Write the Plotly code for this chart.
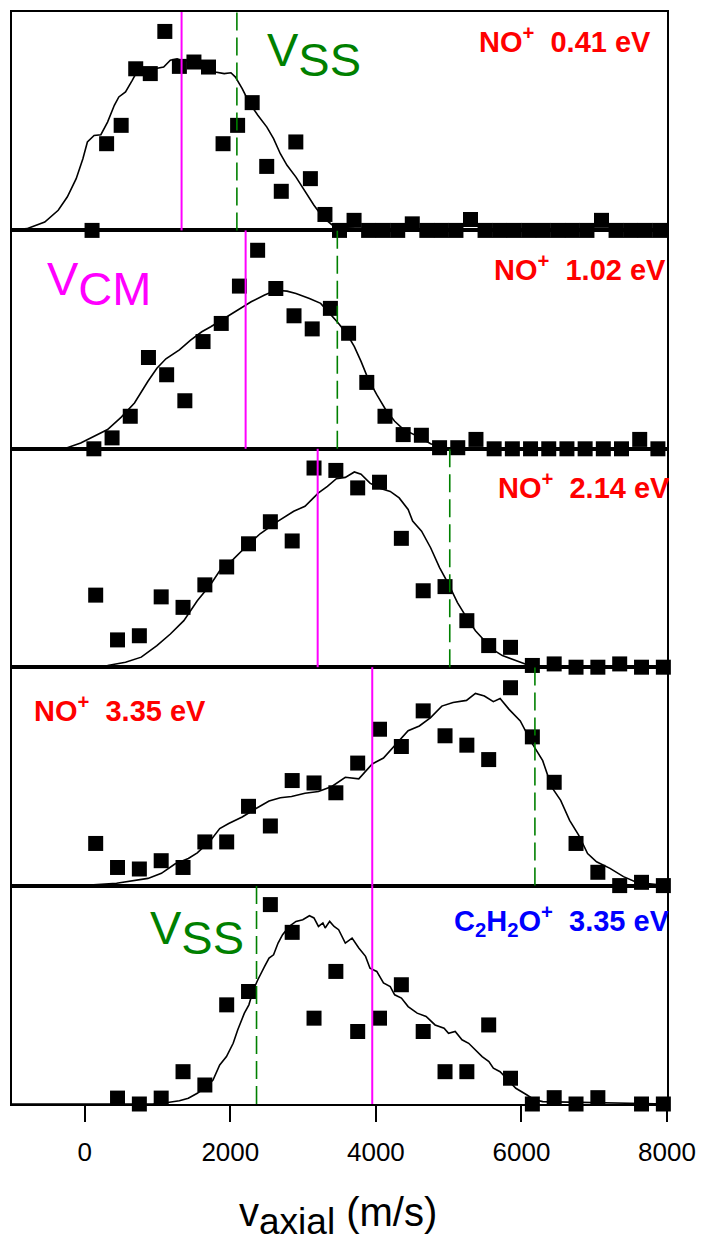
import plotly.graph_objects as go

# ---------------- data ----------------
# Panel 1: NO+ 0.41 eV
p1_x = [100, 300, 500, 700, 900, 1100, 1300, 1500, 1700, 1900, 2100, 2300, 2500, 2700, 2900,
        3100, 3300, 3500, 3700, 3900, 4100, 4300, 4500, 4700, 4900, 5100, 5300, 5500, 5700,
        5900, 6100, 6300, 6500, 6700, 6900, 7100, 7300, 7500, 7700, 7900]
p1_y = [0, 39.7, 48.1, 74.0, 71.8, 91.1, 75.1, 77.1, 74.8, 39.7, 48.1, 58.5, 29.3, 17.9, 40.5,
        23.7, 7.3, 0, 4.6, 0, 0, 0, 3.0, 0, 0, 0, 5.0, 0, 0,
        0, 0, 0, 0, 0, 0, 4.6, 0, 0, 0, 0]
p1_fit_x = [-1000, -796, -550, -365, -241, -118, -26, 36, 128, 221, 313, 406, 468, 560, 652, 714,
            806, 961, 1084, 1176, 1269, 1361, 1423, 1546, 1670, 1793, 1916, 2008, 2070, 2163,
            2255, 2378, 2502, 2594, 2687, 2779, 2902, 3026, 3149, 3272, 3395, 3519, 3704, 4073, 8000]
p1_fit_y = [0, 0.8, 3.8, 9.2, 15.3, 23.7, 32.8, 40.5, 43.5, 43.8, 49.6, 57.3, 61.1, 63.4, 68.7, 72.5,
            74.0, 74.0, 74.8, 77.9, 78.6, 77.4, 77.9, 78.6, 75.6, 72.5, 71.8, 72.2, 70.2, 64.9,
            58.8, 52.7, 47.3, 42.0, 35.1, 29.8, 24.4, 17.6, 11.5, 6.1, 2.6, 1.5, 0.8, 0.3, 0]

# Panel 2: NO+ 1.02 eV
p2_x = [125, 375, 625, 875, 1125, 1375, 1625, 1875, 2125, 2375, 2625, 2875, 3125, 3375, 3625,
        3875, 4125, 4375, 4625, 4875, 5125, 5375, 5625, 5875, 6125, 6375, 6625, 6875, 7125,
        7375, 7625, 7875]
p2_y = [0, 5.0, 14.9, 41.8, 33.9, 22.0, 49.1, 57.4, 74.5, 90.9, 73.4, 60.9, 54.9, 64.3, 52.9,
        30.4, 14.9, 6.5, 6.2, 0.5, 0.5, 4.3, 0, 0, 0, 0, 0, 0, 0,
        0, 4.3, 0]
p2_fit_x = [-1000, -241, -56, 128, 313, 498, 683, 868, 991, 1115, 1300, 1454, 1608, 1731, 1916,
            2101, 2286, 2471, 2625, 2779, 2902, 3087, 3241, 3365, 3488, 3611, 3704, 3796, 3889,
            4012, 4135, 4258, 4382, 4567, 4752, 4937, 5306, 8000]
p2_fit_y = [0, 0.5, 2.7, 5.8, 8.8, 14.4, 21.0, 30.9, 36.9, 41.2, 45.3, 49.8, 53.6, 55.9, 59.7,
            63.5, 67.3, 70.4, 72.6, 72.2, 71.1, 68.8, 66.6, 62.0, 57.4, 52.1, 46.8, 40.0, 32.4,
            24.8, 17.9, 12.6, 8.8, 5.8, 2.3, 0.5, 0, 0]

# Panel 3: NO+ 2.14 eV
p3_x = [150, 450, 750, 1050, 1350, 1650, 1950, 2250, 2550, 2850, 3150, 3450, 3750, 4050,
        4350, 4650, 4950, 5250, 5550, 5850, 6150, 6450, 6750, 7050, 7350, 7650, 7950]
p3_y = [33.0, 12.5, 14.4, 32.2, 27.4, 37.7, 45.9, 56.5, 66.6, 57.8, 91.2, 90.1, 82.1, 84.7,
        59.0, 35.0, 36.9, 21.3, 9.9, 9.1, 0.8, 1.5, 0, 0, 1.5, 0, 0]
p3_fit_x = [-1000, -303, 313, 560, 776, 991, 1176, 1361, 1546, 1731, 1854, 2039, 2224, 2409,
            2656, 2871, 3026, 3118, 3211, 3334, 3457, 3580, 3704, 3796, 3919, 4043, 4197, 4320,
            4443, 4505, 4628, 4752, 4875, 4998, 5121, 5245, 5368, 5491, 5614, 5738, 5923, 6108,
            6231, 8000]
p3_fit_y = [0, 0.3, 0.8, 2.3, 4.6, 9.9, 15.2, 21.3, 30.4, 38.0, 44.1, 49.4, 55.5, 61.1,
            66.9, 71.4, 73.7, 76.7, 79.8, 82.8, 86.3, 86.9, 89.4, 88.4, 84.3, 82.1, 80.5, 77.5,
            72.2, 66.9, 62.3, 54.7, 45.6, 38.0, 29.6, 22.8, 16.7, 12.2, 7.9, 5.3, 3.0, 0.8,
            0, 0]

# Panel 4: NO+ 3.35 eV
p4_x = [150, 450, 750, 1050, 1350, 1650, 1950, 2250, 2550, 2850, 3150, 3450, 3750, 4050,
        4350, 4650, 4950, 5250, 5550, 5850, 6150, 6450, 6750, 7050, 7350, 7650, 7950]
p4_y = [19.3, 8.3, 7.6, 11.4, 8.3, 20.0, 20.0, 36.3, 27.3, 48.1, 47.0, 42.5, 56.1, 71.6,
        63.7, 80.0, 68.6, 64.3, 57.7, 90.6, 68.1, 47.3, 19.3, 6.1, 0, 1.5, 0]
p4_fit_x = [-1000, 67, 437, 683, 868, 1053, 1238, 1423, 1546, 1731, 1854, 1978, 2163, 2347,
            2532, 2687, 2841, 3026, 3211, 3395, 3580, 3765, 3950, 4104, 4258, 4443, 4597, 4752,
            4906, 5060, 5245, 5368, 5491, 5614, 5707, 5830, 5984, 6138, 6292, 6416, 6539, 6662,
            6786, 6909, 7032, 7217, 7402, 7587, 8000]
p4_fit_y = [0, 0.3, 1.1, 2.3, 3.3, 5.6, 9.9, 12.4, 15.0, 20.8, 26.1, 28.4, 31.4, 35.2,
            38.7, 40.2, 40.8, 42.3, 43.1, 45.4, 49.6, 48.9, 55.7, 58.4, 64.0, 70.9, 73.1, 76.9,
            82.2, 83.8, 84.8, 88.0, 86.8, 84.2, 85.7, 80.7, 75.4, 65.6, 57.2, 45.1, 39.0, 29.9,
            23.1, 14.7, 10.9, 7.9, 4.1, 1.4, 0]

# Panel 5: C2H2O+ 3.35 eV
p5_x = [450, 750, 1050, 1350, 1650, 1950, 2250, 2550, 2850, 3150, 3450, 3750, 4050, 4350,
        4650, 4950, 5250, 5550, 5850, 6150, 6450, 6750, 7050, 7650, 7950]
p5_y = [2.7, 0, 2.7, 14.8, 8.7, 45.4, 51.5, 91.3, 78.6, 39.3, 60.7, 33.2, 39.3, 54.6,
        33.2, 14.8, 14.8, 36.2, 11.8, 0, 2.9, 0, 2.9, 0, 0]
p5_fit_x = [-1000, 930, 1115, 1300, 1423, 1546, 1670, 1762, 1854, 1947, 2039, 2101, 2193, 2255,
            2317, 2378, 2471, 2532, 2594, 2656, 2718, 2810, 2902, 2995, 3087, 3149, 3211, 3272,
            3303, 3365, 3426, 3488, 3580, 3673, 3765, 3858, 3919, 4012, 4104, 4197, 4258, 4351,
            4443, 4567, 4690, 4813, 4937, 4998, 5090, 5183, 5275, 5368, 5460, 5553, 5614, 5707,
            5830, 5923, 6077, 6169, 6292, 8000]
p5_fit_y = [0, 0, 0.6, 1.5, 2.6, 4.9, 8.0, 11.0, 17.9, 21.7, 27.8, 33.9, 41.6, 45.4,
            52.3, 56.9, 63.0, 66.8, 68.3, 73.7, 77.5, 81.3, 83.6, 84.4, 86.2, 85.2, 81.3, 82.9,
            80.6, 83.6, 81.3, 79.8, 73.7, 76.0, 71.4, 67.6, 62.2, 60.7, 55.4, 53.8, 50.0, 48.5,
            44.6, 41.6, 40.1, 36.2, 34.7, 32.4, 33.2, 29.4, 27.8, 24.8, 21.7, 19.4, 16.4, 14.8,
            10.2, 7.2, 4.1, 2.1, 1.1, 0]

# characteristic velocities (m/s) per panel
v_cm = [1330, 2210, 3200, 3950, 3950]
v_ss = [2090, 3470, 5015, 6185, 2360]

panel_labels = ["NO<sup>+</sup>&nbsp; 0.41 eV", "NO<sup>+</sup>&nbsp; 1.02 eV",
                "NO<sup>+</sup>&nbsp; 2.14 eV", "NO<sup>+</sup>&nbsp; 3.35 eV",
                "C<sub>2</sub>H<sub>2</sub>O<sup>+</sup>&nbsp; 3.35 eV"]
label_colors = ["#FF0000", "#FF0000", "#FF0000", "#FF0000", "#0000FF"]
tick_vals = [0, 2000, 4000, 6000, 8000]
tick_text = ["0", "2000", "4000", "6000", "8000"]

# ---------------- figure ----------------
GREEN = "#008000"
MAGENTA = "#FF00FF"
FONT = "Liberation Sans, Arial, sans-serif"

panels = [(p1_x, p1_y, p1_fit_x, p1_fit_y), (p2_x, p2_y, p2_fit_x, p2_fit_y),
          (p3_x, p3_y, p3_fit_x, p3_fit_y), (p4_x, p4_y, p4_fit_x, p4_fit_y),
          (p5_x, p5_y, p5_fit_x, p5_fit_y)]

fig = go.Figure()
n = len(panels)
layout = {}
shapes = []
for i, (mx, my, fx, fy) in enumerate(panels):
    k = i + 1
    sfx = "" if k == 1 else str(k)
    xa, ya = "x" + sfx, "y" + sfx
    fig.add_trace(go.Scatter(x=fx, y=fy, mode="lines", xaxis=xa, yaxis=ya,
                             line=dict(color="black", width=1.6), showlegend=False,
                             hoverinfo="skip"))
    fig.add_trace(go.Scatter(x=mx, y=my, mode="markers", xaxis=xa, yaxis=ya,
                             marker=dict(symbol="square", size=15, color="black",
                                         line=dict(width=0)),
                             cliponaxis=False, showlegend=False))
    top = 1 - i / n
    bot = 1 - (i + 1) / n
    last = (k == n)
    layout["xaxis" + sfx] = dict(
        domain=[0, 1], anchor=ya, range=[-1000, 8000], showgrid=False, zeroline=False,
        showline=True, linecolor="black", linewidth=2, mirror=True,
        ticks="outside" if last else "", ticklen=16, tickwidth=2, tickcolor="black",
        showticklabels=last, tickvals=tick_vals, ticktext=tick_text,
        ticklabelstandoff=8,
        tickfont=dict(family=FONT, size=26, color="black"),
        matches=None if k == 1 else "x")
    layout["yaxis" + sfx] = dict(
        domain=[bot, top], anchor=xa, range=[0, 100], showgrid=False, zeroline=False,
        showline=True, linecolor="black", linewidth=2, mirror=True,
        ticks="", showticklabels=False)
    shapes.append(dict(type="line", xref=xa, yref=ya + " domain", x0=v_cm[i], x1=v_cm[i],
                       y0=0, y1=1, line=dict(color=MAGENTA, width=2)))
    shapes.append(dict(type="line", xref=xa, yref=ya + " domain", x0=v_ss[i], x1=v_ss[i],
                       y0=0, y1=1, line=dict(color=GREEN, width=1.6, dash="18px,7px")))

annotations = []
# panel labels: (x paper, y paper, anchor)
label_pos = [(0.979, 0.974, "right"), (1.002, 0.766, "right"), (1.008, 0.566, "right"),
             (0.030, 0.362, "left"), (1.008, 0.168, "right")]
for (lx, ly, anc), txt, col in zip(label_pos, panel_labels, label_colors):
    annotations.append(dict(xref="paper", yref="paper", x=lx, y=ly, xanchor=anc,
                            yanchor="middle", text="<b>" + txt + "</b>", showarrow=False,
                            font=dict(family=FONT, size=29, color=col)))

big = "<span style='font-size:47px'>%s</span>"
annotations.append(dict(xref="paper", yref="paper", x=0.386, y=0.961, xanchor="left",
                        yanchor="middle", showarrow=False,
                        text="V<sub>" + big % "SS" + "</sub>",
                        font=dict(family=FONT, size=47, color=GREEN)))
annotations.append(dict(xref="paper", yref="paper", x=0.051, y=0.751, xanchor="left",
                        yanchor="middle", showarrow=False,
                        text="V<sub>" + big % "CM" + "</sub>",
                        font=dict(family=FONT, size=47, color=MAGENTA)))
annotations.append(dict(xref="paper", yref="paper", x=0.207, y=0.157, xanchor="left",
                        yanchor="middle", showarrow=False,
                        text="V<sub>" + big % "SS" + "</sub>",
                        font=dict(family=FONT, size=47, color=GREEN)))
# x axis title
annotations.append(dict(xref="paper", yref="paper", x=0.498, y=-0.1025, xanchor="center",
                        yanchor="middle", showarrow=False,
                        text="v<sub><span style='font-size:37px'>axial</span></sub> (m/s)",
                        font=dict(family=FONT, size=40, color="black")))

fig.update_layout(**layout)
fig.update_layout(width=706, height=1245, margin=dict(l=12, r=33, t=10, b=141),
                  paper_bgcolor="white", plot_bgcolor="white",
                  shapes=shapes, annotations=annotations, showlegend=False,
                  font=dict(family=FONT, color="black"))
fig.write_html("out.html")
